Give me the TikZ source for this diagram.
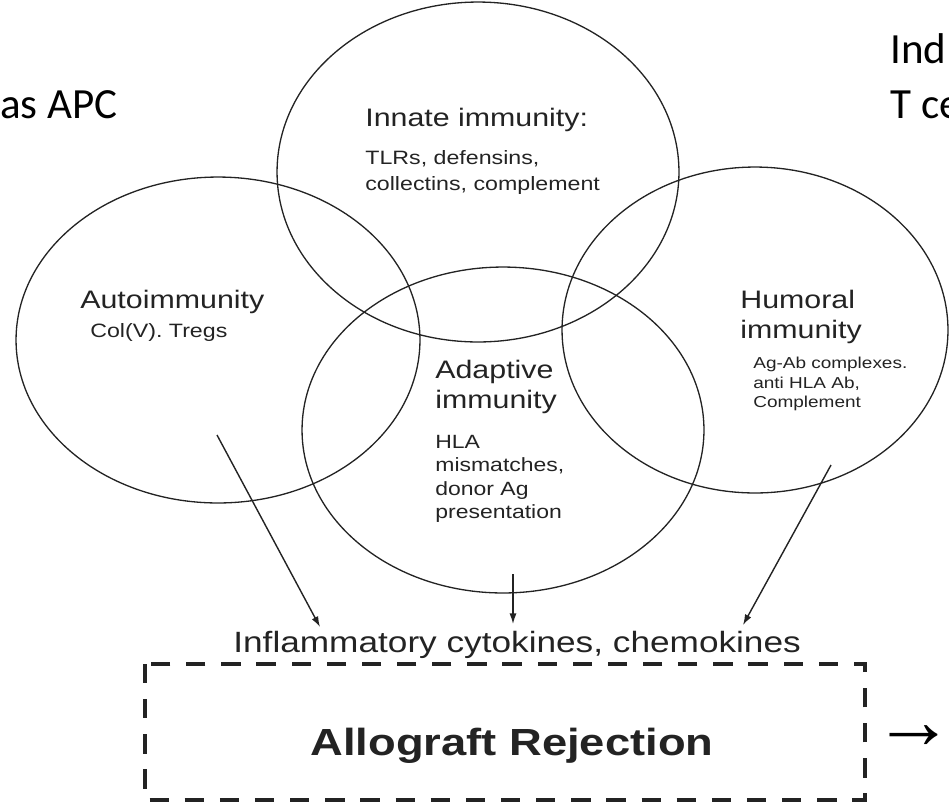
\documentclass[tikz,border=0pt]{standalone}
\usepackage{fontspec}
\setmainfont{Liberation Sans}
\newfontfamily\figfont{Liberation Sans}[FakeStretch=1.2]
\newfontfamily\slidefont{Carlito}
\usetikzlibrary{arrows.meta}
\definecolor{inkgray}{RGB}{35,35,35}

\tikzset{
  ring/.style={draw=inkgray, line width=0.75pt},
  headline/.style={anchor=north west, inner sep=0pt, align=left, text=inkgray, font={\figfont\fontsize{14.4pt}{17pt}\selectfont}},
  smalltext/.style={anchor=north west, inner sep=0pt, align=left, text=inkgray, font={\figfont\fontsize{11pt}{14.7pt}\selectfont}},
  slidetext/.style={anchor=base west, inner sep=0pt, font={\slidefont\fontsize{24.5pt}{31pt}\selectfont}},
  feed/.style={-{Latex[length=6pt,width=4pt]}, line width=0.8pt, draw=inkgray},
  dashbox/.style={draw=inkgray, line width=2.4pt, dash pattern=on 11pt off 9pt},
}

\begin{document}
\begin{tikzpicture}[x=0.02cm, y=-0.02cm]
	% Rahmen (Bildgroesse)
	\useasboundingbox (0,0) rectangle (949,806);
	% Mittelpunkte der Kreise
	\coordinate (innate) at (478,172);
	\coordinate (auto) at (218,340);
	\coordinate (adaptive) at (503,430);
	\coordinate (humoral) at (755,330);
	% Kreise zeichnen
	\foreach \c/\rx/\ry in {innate/4.02/3.40, auto/4.04/3.26, adaptive/4.02/3.26, humoral/3.86/3.26}
		\draw[ring] (\c) ellipse [x radius=\rx cm, y radius=\ry cm];
	% Beschriftung der Kreise
	\node[headline] (innateT) at (365,108) {Innate immunity:};
	\node[smalltext] (innateS) at (365,150) {TLRs, defensins,\\collectins, complement};
	\node[headline] (autoT) at (80,290) {Autoimmunity};
	\node[smalltext] (autoS) at (90,323) {Col(V). Tregs};
	\node[headline] (adaptT) at (435,360) {Adaptive\\immunity};
	\node[smalltext, font={\figfont\fontsize{10.9pt}{13.3pt}\selectfont}] (adaptS) at (435,435) {HLA\\mismatches,\\donor Ag\\presentation};
	\node[headline] (humT) at (740,290) {Humoral\\immunity};
	\node[smalltext, font={\figfont\fontsize{9pt}{11pt}\selectfont}] (humS) at (753,357) {Ag-Ab complexes.\\anti HLA Ab,\\Complement};
	% Zytokine
	\node[anchor=north west, inner sep=0pt, text=inkgray, font={\figfont\fontsize{16.7pt}{19pt}\selectfont}] (cyto) at (233,631) {Inflammatory cytokines, chemokines};
	% Pfeile
	\coordinate (autoTail) at (217,435);
	\coordinate (autoTip) at (320,627);
	\coordinate (adaptTail) at (513,574);
	\coordinate (adaptTip) at (513,624);
	\coordinate (humTail) at (831,465);
	\coordinate (humTip) at (743,625);
	\draw[feed] (autoTail) -- (autoTip);
	\draw[feed] (adaptTail) -- (adaptTip);
	\draw[feed] (humTail) -- (humTip);
	% Abstossung
	\coordinate (boxNW) at (145,664);
	\coordinate (boxSE) at (865,800);
	\draw[dashbox] (boxNW) rectangle (boxSE);
	\node[inner sep=0pt, text=inkgray, font={\figfont\bfseries\fontsize{21.5pt}{24pt}\selectfont}] (reject) at (512,746) {Allograft Rejection};
	\node[anchor=west, inner sep=0pt, font={\fontsize{46pt}{50pt}\selectfont}] (next) at (873,737) {→};
	% Folientext am Rand
	\node[slidetext, anchor=base east] (apc) at (118,118) {as APC};
	\node[slidetext] (ind) at (890,63) {Ind};
	\node[slidetext] (tcell) at (890,118) {T ce};
\end{tikzpicture}
\end{document}
